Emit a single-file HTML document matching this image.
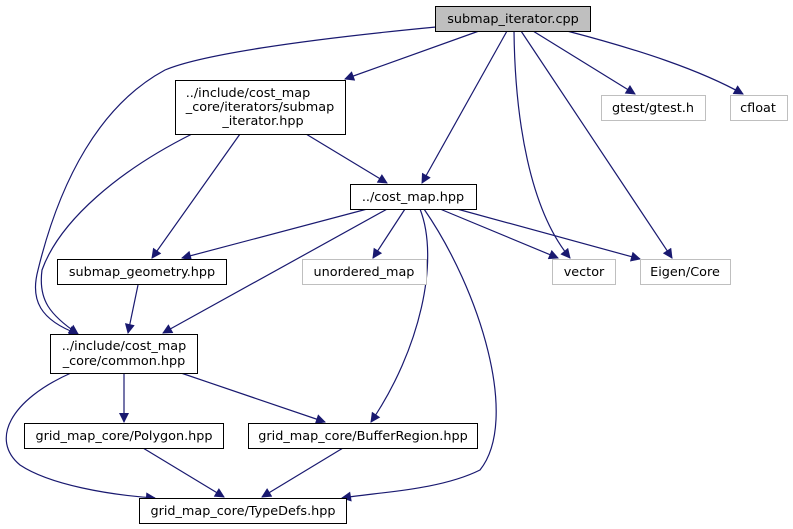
<!DOCTYPE html>
<html><head><meta charset="utf-8"><style>
html,body{margin:0;padding:0;background:#fff;width:793px;height:529px;overflow:hidden}
svg text{font-family:"DejaVu Sans","Liberation Sans",sans-serif;font-size:12.8px;fill:#000;text-anchor:middle}
</style></head><body>
<svg width="793" height="529" viewBox="0 0 793 529" xmlns="http://www.w3.org/2000/svg">
<defs><marker id="a" viewBox="0 0 10 10" refX="9" refY="5" markerWidth="11" markerHeight="10" markerUnits="userSpaceOnUse" orient="auto"><path d="M0,0 L10,5 L0,10 z" fill="#191970"/></marker></defs>
<g fill="none" stroke="#191970" stroke-width="1.2" marker-end="url(#a)">
<path d="M436,27 C300,40 200,55 165,70 C100,105 60,180 38,270 C30,300 40,320 78,334"/>
<path d="M479,31 L345,79"/>
<path d="M507,31 L422,183"/>
<path d="M514,31 C515,120 530,210 570,258"/>
<path d="M521,31 L672,258"/>
<path d="M533,31 L635,94"/>
<path d="M567,31 C640,50 700,70 743,94"/>
<path d="M192,134 C120,170 60,220 42,270 C38,300 50,315 78,334"/>
<path d="M240,134 L152,258"/>
<path d="M306,134 L387,183"/>
<path d="M371,208 L182,258"/>
<path d="M389,208 L163,333"/>
<path d="M405,209 L373,258"/>
<path d="M420,209 C440,260 420,350 371,422"/>
<path d="M424,209 C480,290 520,420 480,470 C440,490 380,492 342,498"/>
<path d="M440,209 L558,258"/>
<path d="M457,209 L640,259"/>
<path d="M138,285 L128,333"/>
<path d="M71,373 C10,400 -10,440 20,465 C50,485 110,495 155,498"/>
<path d="M124,373 L124,422"/>
<path d="M181,373 L325,422"/>
<path d="M143,448 L224,497"/>
<path d="M343,448 L262,497"/>
</g>
<g stroke-width="1">
<rect x="435.5" y="6.5" width="155" height="25" fill="#bfbfbf" stroke="#000"/>
<rect x="175.5" y="80.5" width="170" height="54" fill="#fff" stroke="#000"/>
<rect x="601.5" y="95.5" width="104" height="25" fill="#fff" stroke="#bfbfbf"/>
<rect x="730.5" y="95.5" width="57" height="25" fill="#fff" stroke="#bfbfbf"/>
<rect x="350.5" y="184.5" width="126" height="25" fill="#fff" stroke="#000"/>
<rect x="57.5" y="259.5" width="169" height="25" fill="#fff" stroke="#000"/>
<rect x="302.5" y="259.5" width="124" height="25" fill="#fff" stroke="#bfbfbf"/>
<rect x="552.5" y="259.5" width="63" height="25" fill="#fff" stroke="#bfbfbf"/>
<rect x="640.5" y="259.5" width="90" height="25" fill="#fff" stroke="#bfbfbf"/>
<rect x="50.5" y="334.5" width="147" height="39" fill="#fff" stroke="#000"/>
<rect x="24.5" y="423.5" width="199" height="25" fill="#fff" stroke="#000"/>
<rect x="248.5" y="423.5" width="229" height="25" fill="#fff" stroke="#000"/>
<rect x="139.5" y="498.5" width="207" height="25" fill="#fff" stroke="#000"/>
</g>
<text x="513" y="23">submap_iterator.cpp</text>
<text x="248" y="97">../include/cost_map</text>
<text x="260" y="111">_core/iterators/submap</text>
<text x="263" y="125">_iterator.hpp</text>
<text x="653" y="112">gtest/gtest.h</text>
<text x="758" y="112">cfloat</text>
<text x="413" y="201">../cost_map.hpp</text>
<text x="142" y="276">submap_geometry.hpp</text>
<text x="364" y="276">unordered_map</text>
<text x="584" y="276">vector</text>
<text x="685" y="276">Eigen/Core</text>
<text x="124" y="350">../include/cost_map</text>
<text x="124" y="365">_core/common.hpp</text>
<text x="124" y="440">grid_map_core/Polygon.hpp</text>
<text x="363" y="440">grid_map_core/BufferRegion.hpp</text>
<text x="243" y="515">grid_map_core/TypeDefs.hpp</text>
</svg>
</body></html>
